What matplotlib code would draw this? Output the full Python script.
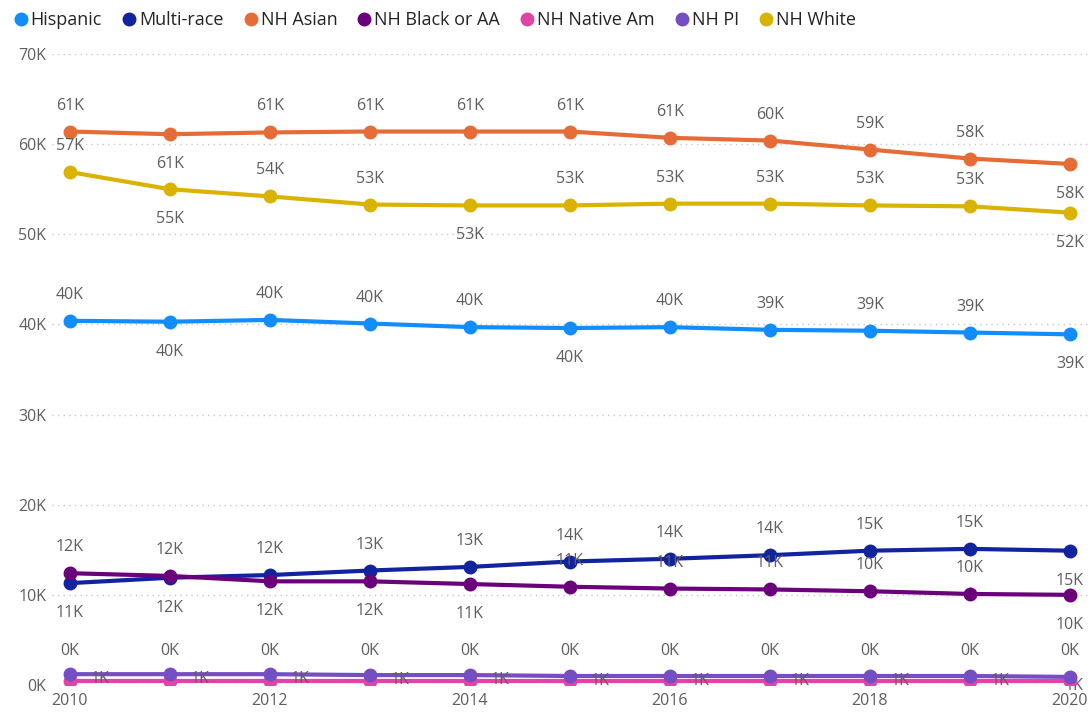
import numpy as np
import matplotlib
matplotlib.use('Agg')
from matplotlib import pyplot as plt
from matplotlib.lines import Line2D

plt.rcParams['font.family'] = ['Open Sans', 'DejaVu Sans']

years = [2010, 2011, 2012, 2013, 2014, 2015, 2016, 2017, 2018, 2019, 2020]

#values in thousands
hispanic = [40.4, 40.3, 40.5, 40.1, 39.7, 39.6, 39.7, 39.4, 39.3, 39.1, 38.9]
multi_race = [11.3, 11.9, 12.2, 12.7, 13.1, 13.7, 14.0, 14.4, 14.9, 15.1, 14.9]
nh_asian = [61.4, 61.1, 61.3, 61.4, 61.4, 61.4, 60.7, 60.4, 59.4, 58.4, 57.8]
nh_black = [12.4, 12.1, 11.5, 11.5, 11.2, 10.9, 10.7, 10.6, 10.4, 10.1, 10.0]
nh_native = [0.4, 0.4, 0.4, 0.4, 0.4, 0.4, 0.4, 0.4, 0.4, 0.4, 0.4]
nh_pi = [1.2, 1.2, 1.2, 1.1, 1.1, 1.0, 1.0, 1.0, 1.0, 1.0, 0.9]
nh_white = [56.9, 55.0, 54.2, 53.3, 53.2, 53.2, 53.4, 53.4, 53.2, 53.1, 52.4]

names = ['Hispanic', 'Multi-race', 'NH Asian', 'NH Black or AA',
         'NH Native Am', 'NH PI', 'NH White']
series = [hispanic, multi_race, nh_asian, nh_black, nh_native, nh_pi, nh_white]
colors = ['#118DFF', '#12239E', '#E66C37', '#6B007B', '#E044A7', '#744EC2', '#D9B300']

#where each data label sits: a = above, b = below, r = right, e = last point
label_pos = {
    'Hispanic': 'abaaabaaaab',
    'Multi-race': 'bbaaaaaaaab',
    'NH Asian': 'abaaaaaaaab',
    'NH Black or AA': 'aabbbaaaaab',
    'NH Native Am': 'aaaaaaaaaaa',
    'NH PI': 'rrrrrrrrrre',
    'NH White': 'abaabaaaaab',
}
offsets = {'a': (0, 26), 'b': (0, -30), 'r': (30, -5), 'e': (4, -9)}
grey = '#605E5C'

fig = plt.figure(figsize=(10.92, 7.19), dpi=100)
ax = fig.add_axes([52/1092, 1 - 685/719, (1090-52)/1092, (685-54)/719])

for name, vals, col in zip(names, series, colors):
    ax.plot(years, vals, color=col, lw=3, marker='o', ms=9, zorder=3,
            solid_capstyle='round')
    for x, v, p in zip(years, vals, label_pos[name]):
        dx, dy = offsets[p]
        if name == 'NH Native Am':
            dy = 30
        ax.annotate('%.0fK' % v, (x, v), xytext=(dx, dy),
                    textcoords='offset pixels', ha='center', va='center',
                    fontsize=11.5, color=grey, zorder=4 if p != 'e' else 2,
                    annotation_clip=False)

ax.set_xlim(2010 - 0.18, 2020 + 0.2)
ax.set_ylim(0, 70)
ax.set_yticks(np.arange(0, 71, 10))
ax.set_yticklabels(['%dK' % t for t in range(0, 71, 10)])
ax.set_xticks([2010, 2012, 2014, 2016, 2018, 2020])
ax.tick_params(length=0, labelsize=11.5, labelcolor=grey)
ax.tick_params(axis='x', pad=6)
ax.tick_params(axis='y', pad=4)
ax.grid(axis='y', color='#C8C8C8', linestyle=(0, (1, 3)), lw=1)
for s in ax.spines.values():
    s.set_visible(False)

handles = [Line2D([], [], ls='', marker='o', ms=9, color=c) for c in colors]
fig.legend(handles, names, loc='upper left', bbox_to_anchor=(0.0, 1.0),
           ncol=7, frameon=False, handletextpad=0.0, columnspacing=0.95,
           handlelength=1.1, fontsize=13, labelcolor='#252423',
           borderaxespad=0.2)

fig.savefig('out.png', dpi=100)
